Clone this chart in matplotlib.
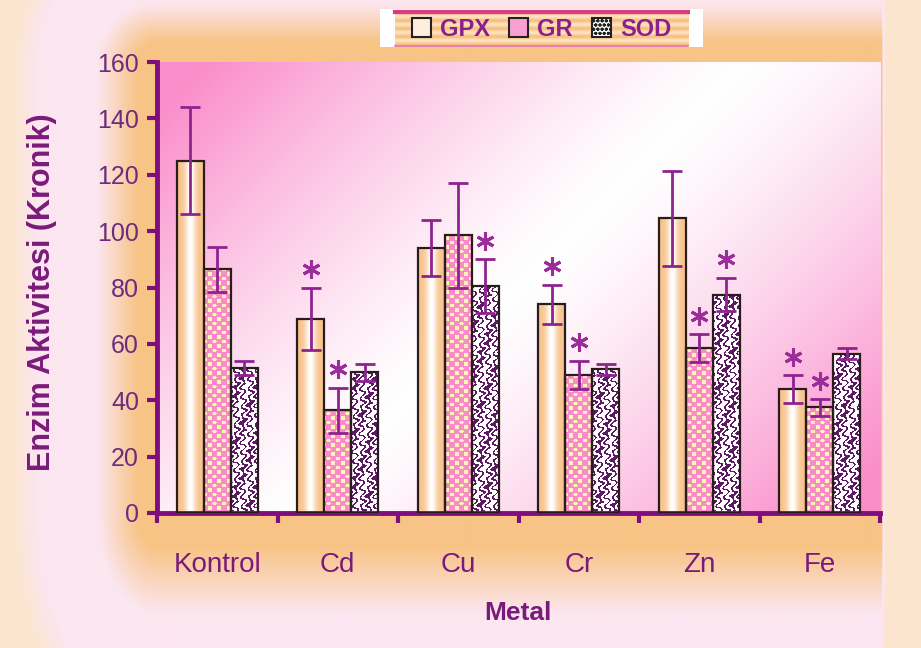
import numpy as np
import matplotlib
matplotlib.use('Agg')
import matplotlib.pyplot as plt
from matplotlib.patches import Patch, Rectangle

# veriler
metals = ['Kontrol', 'Cd', 'Cu', 'Cr', 'Zn', 'Fe']
gpx = [125, 69, 94, 74, 104.5, 44]
gpx_err = [19, 11, 10, 7, 17, 5]
gr = [86.5, 36.5, 98.5, 49, 58.5, 37.5]
gr_err = [8, 8, 18.5, 5, 5, 3]
sod = [51.5, 50, 80.5, 51, 77.5, 56.5]
sod_err = [2.5, 3, 9.5, 2, 6, 2]
gpx_sig = [0, 1, 0, 1, 0, 1]
gr_sig = [0, 1, 0, 1, 1, 1]
sod_sig = [0, 0, 1, 0, 1, 0]
yticks = [0, 20, 40, 60, 80, 100, 120, 140, 160]

plt.rcParams['font.family'] = ['Liberation Sans', 'DejaVu Sans']

PURPLE = '#7d0f7d'
TXT = '#7a1a7a'
ERR = '#8e2390'
STAR = '#9a2d9a'

FW, FH = 921, 648
L, R, T, B = 157, 880, 62, 513


def hexrgb(h):
    h = h.lstrip('#')
    return np.array([int(h[i:i + 2], 16) for i in (0, 2, 4)]) / 255.0


# arka plan (turuncu parlama)
yy, xx = np.mgrid[0:FH, 0:FW].astype(float)
dx = np.maximum.reduce([L - xx, np.zeros_like(xx), (xx - R) * 40])
dy = np.maximum.reduce([T - yy, np.zeros_like(yy), (yy - B) * 0.6])
d = np.hypot(dx, dy)
orange, pinkw, peach = hexrgb('#f8c486'), hexrgb('#fce6f0'), hexrgb('#fbe5cf')
t1 = np.clip((d - 20) / 40, 0, 1)[..., None]
t2 = np.clip((d - 120) / 25, 0, 1)[..., None]
bgimg = orange * (1 - t1) + pinkw * t1
bgimg = bgimg * (1 - t2) + peach * t2

fig = plt.figure(figsize=(FW / 100, FH / 100), dpi=100)
bg = fig.add_axes([0, 0, 1, 1], zorder=-10)
bg.imshow(bgimg, extent=[0, 1, 0, 1], aspect='auto')
bg.set_xlim(0, 1)
bg.set_ylim(0, 1)
bg.axis('off')

ax = fig.add_axes([L / FW, 1 - B / FH, (R - L) / FW, (B - T) / FH])
ax.set_xlim(-0.5, 5.5)
ax.set_ylim(0, 160)

# çizim alanı: çapraz pembe-beyaz-pembe geçiş
W, H = R - L, B - T
py, px = np.mgrid[0:H, 0:W].astype(float)
s = (px + py) / (W + H)
f = np.clip(np.abs(s - 0.5) * 2.2, 0, 1) ** 1.3
pink = hexrgb('#fa8ecb')
white = np.ones(3)
plotbg = white * (1 - f[..., None]) + pink * f[..., None]
ax.imshow(plotbg, extent=[-0.5, 5.5, 0, 160], aspect='auto', zorder=0)

# desenler
gr_mask = (np.cos(2 * np.pi * px / 9.5) * np.cos(2 * np.pi * py / 9.0)) > 0.2
gr_tex = np.where(gr_mask[..., None], hexrgb('#fff4b8'), hexrgb('#f98cc8'))
v = np.sin(2 * np.pi * px / 7 + 2.0 * np.sin(2 * np.pi * py / 9)
           + 1.2 * np.sin(2 * np.pi * (px + py) / 11))
sod_mask = v > 0.25
sod_tex = np.where(sod_mask[..., None], hexrgb('#5c1a63'), white)

g = np.linspace(0, 1, 64)
wg = np.exp(-((g - 0.5) / 0.2) ** 2)
gpx_grad = (hexrgb('#f8c48e') * (1 - wg[:, None]) + white * wg[:, None])[None, :, :]

x = np.arange(len(metals))
w = 0.224
EDGE = '#2a1c1c'

for i in range(len(metals)):
    ax.imshow(gpx_grad, extent=[x[i] - 1.5 * w, x[i] - 0.5 * w, 0, gpx[i]],
              aspect='auto', zorder=2)
ax.bar(x - w, gpx, w, facecolor='none', edgecolor=EDGE, lw=1.6, zorder=3)

gr_bars = ax.bar(x, gr, w, facecolor='none', edgecolor=EDGE, lw=1.6, zorder=3)
for p in gr_bars:
    im = ax.imshow(gr_tex, extent=[-0.5, 5.5, 0, 160], aspect='auto', zorder=2,
                   interpolation='nearest')
    im.set_clip_path(p)

sod_bars = ax.bar(x + w, sod, w, facecolor='none', edgecolor=EDGE, lw=1.6, zorder=3)
for p in sod_bars:
    im = ax.imshow(sod_tex, extent=[-0.5, 5.5, 0, 160], aspect='auto', zorder=2,
                   interpolation='nearest')
    im.set_clip_path(p)

for off, vals, errs, sig in [(-w, gpx, gpx_err, gpx_sig), (0, gr, gr_err, gr_sig),
                             (w, sod, sod_err, sod_sig)]:
    ax.errorbar(x + off, vals, yerr=errs, fmt='none', ecolor=ERR, elinewidth=2,
                capsize=7, capthick=2, zorder=4)
    for i in range(len(metals)):
        if sig[i]:
            ax.plot(x[i] + off, vals[i] + errs[i] + 6.5, marker=(6, 2, 0), ms=13,
                    mew=2.2, color=STAR, zorder=5)

ax.set_xlim(-0.5, 5.5)
ax.set_ylim(0, 160)
for sp in ['top', 'right']:
    ax.spines[sp].set_visible(False)
for sp in ['left', 'bottom']:
    ax.spines[sp].set_color(PURPLE)
    ax.spines[sp].set_linewidth(3.5)

ax.set_yticks(yticks)
ax.tick_params(axis='y', direction='out', length=7, width=3, color=PURPLE,
               labelsize=18, labelcolor='#6b2c80', pad=6)
ax.set_xticks(np.arange(-0.5, 6, 1))
ax.set_xticklabels([])
ax.set_xticks(x, minor=True)
ax.set_xticklabels(metals, minor=True)
ax.tick_params(axis='x', which='major', direction='out', length=7, width=3, color=PURPLE)
ax.tick_params(axis='x', which='minor', length=0, pad=28, labelsize=20, labelcolor=TXT)

fig.text(42 / FW, 1 - 292 / FH, 'Enzim Aktivitesi (Kronik)', rotation=90, ha='center',
         va='center', fontsize=22, fontweight='bold', color=TXT)
fig.text(518 / FW, 1 - 613 / FH, 'Metal', ha='center', va='center', fontsize=19,
         fontweight='bold', color=TXT)

# lejant kutusu
fig.patches.append(Rectangle((380 / FW, 1 - 47 / FH), 323 / FW, 38 / FH,
                             transform=fig.transFigure, facecolor='white',
                             edgecolor='none', zorder=1))
lax = fig.add_axes([395 / FW, 1 - 46 / FH, 293 / FW, 34 / FH], zorder=5)
sy = np.arange(34)
stripe = 0.5 + 0.5 * np.cos(2 * np.pi * sy / 8)
strip = hexrgb('#f8c080') * stripe[:, None] + hexrgb('#fde2c0') * (1 - stripe[:, None])
lax.imshow(strip[:, None, :], extent=[0, 1, 0, 1], aspect='auto')
lax.set_xlim(0, 1)
lax.set_ylim(0, 1)
lax.set_xticks([])
lax.set_yticks([])
for sp in ['left', 'right']:
    lax.spines[sp].set_visible(False)
lax.spines['top'].set_color('#d83c86')
lax.spines['top'].set_linewidth(3)
lax.spines['bottom'].set_color('#e86aa8')
lax.spines['bottom'].set_linewidth(1.2)

handles = [Patch(facecolor='#fdeedd', edgecolor='#222222', lw=1.5, label='GPX'),
           Patch(facecolor='#f9a0d0', edgecolor='#222222', lw=1.5, label='GR'),
           Patch(facecolor='white', edgecolor='#222222', lw=1.5, hatch='oooo', label='SOD')]
lax.legend(handles=handles, loc='center', ncol=3, frameon=False, handlelength=0.8,
           handleheight=0.9, handletextpad=0.4, columnspacing=0.8,
           prop={'weight': 'bold', 'size': 17}, labelcolor='#8b1f8b',
           borderpad=0, borderaxespad=0)

fig.savefig('out.png', dpi=100)
